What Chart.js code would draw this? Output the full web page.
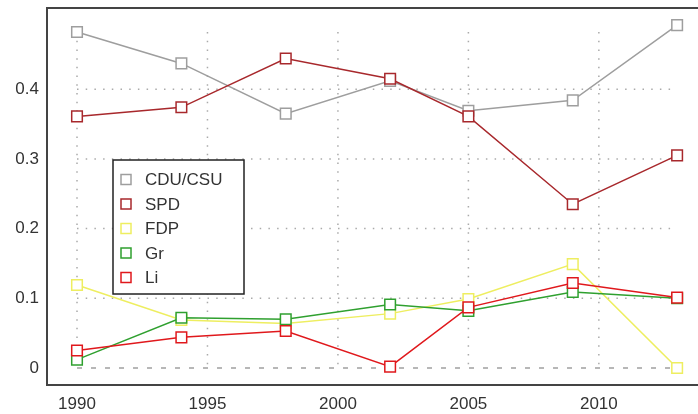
<!DOCTYPE html>
<html>
<head>
<meta charset="utf-8">
<script src="https://cdn.jsdelivr.net/npm/chart.js@4/dist/chart.umd.min.js"></script>
<style>
  html, body { margin: 0; padding: 0; background: #fff; }
  #chart { display: block; }
</style>
</head>
<body>
<canvas id="chart" width="698" height="414"></canvas>
<script>
const years = [1990, 1994, 1998, 2002, 2005, 2009, 2013]
const cduCsu = [0.482, 0.437, 0.365, 0.412, 0.369, 0.384, 0.492]
const spd = [0.361, 0.374, 0.444, 0.415, 0.361, 0.235, 0.305]
const fdp = [0.119, 0.069, 0.064, 0.078, 0.099, 0.149, 0.0]
const gr = [0.012, 0.072, 0.070, 0.091, 0.082, 0.109, 0.100]
const li = [0.025, 0.044, 0.053, 0.002, 0.087, 0.122, 0.101]
const xTicks = [1990, 1995, 2000, 2005, 2010]
const yTicks = [0, 0.1, 0.2, 0.3, 0.4]

const parties = [
    { label: 'CDU/CSU', data: cduCsu, color: '#9e9e9e' },
    { label: 'SPD', data: spd, color: '#a8282c' },
    { label: 'FDP', data: fdp, color: '#eeee60' },
    { label: 'Gr', data: gr, color: '#2fa02f' },
    { label: 'Li', data: li, color: '#e0181c' }
]

const fontFamily = '"Liberation Sans", Arial, sans-serif'

// the scales should not push the plot area around
const noPadding = s => {
    s.paddingTop = 0
    s.paddingBottom = 0
    s.paddingLeft = 0
    s.paddingRight = 0
}

// dotted grid over the data range only, dashed line at zero
const gridPlugin = {
    id: 'gridLines',
    beforeDatasetsDraw(chart) {
        const { ctx, scales: { x, y } } = chart
        ctx.save()
        ctx.strokeStyle = '#aaaaaa'
        ctx.lineWidth = 1.5
        ctx.setLineDash([1.5, 7.2])
        xTicks.forEach(v => {
            const px = x.getPixelForValue(v)
            ctx.beginPath()
            ctx.moveTo(px, y.getPixelForValue(0.482))
            ctx.lineTo(px, y.getPixelForValue(0))
            ctx.stroke()
        })
        yTicks.slice(1).forEach(v => {
            const py = y.getPixelForValue(v)
            ctx.beginPath()
            ctx.moveTo(x.getPixelForValue(1990), py)
            ctx.lineTo(x.getPixelForValue(2013), py)
            ctx.stroke()
        })
        ctx.strokeStyle = '#a0a0a0'
        ctx.setLineDash([5, 9])
        const py0 = y.getPixelForValue(0)
        ctx.beginPath()
        ctx.moveTo(x.getPixelForValue(1990), py0)
        ctx.lineTo(x.getPixelForValue(2013), py0)
        ctx.stroke()
        ctx.restore()
    },
    afterDraw(chart) {
        const { ctx, chartArea: a } = chart
        ctx.save()
        ctx.strokeStyle = '#444'
        ctx.lineWidth = 2
        ctx.beginPath()
        ctx.moveTo(a.right + 2, a.top)
        ctx.lineTo(a.left, a.top)
        ctx.lineTo(a.left, a.bottom)
        ctx.lineTo(a.right + 2, a.bottom)
        ctx.stroke()

        // legend box
        const bx = 113, by = 160, bw = 131, bh = 134
        ctx.fillStyle = '#fff'
        ctx.fillRect(bx, by, bw, bh)
        ctx.strokeStyle = '#222'
        ctx.lineWidth = 1.5
        ctx.strokeRect(bx, by, bw, bh)
        ctx.font = '17px ' + fontFamily
        ctx.textBaseline = 'middle'
        parties.forEach((p, i) => {
            const cy = by + 19.5 + i * 24.5
            ctx.strokeStyle = p.color
            ctx.lineWidth = 1.5
            ctx.strokeRect(121, cy - 5, 10, 10)
            ctx.fillStyle = '#333'
            ctx.fillText(p.label, 145, cy + 1)
        })
        ctx.restore()
    }
}

const ctx = document.getElementById('chart')
const chart = new Chart(ctx, {
    type: 'line',
    data: {
        datasets: parties.map((p, i) => ({
            label: p.label,
            data: years.map((yr, j) => ({ x: yr, y: p.data[j] })),
            borderColor: p.color,
            backgroundColor: '#fff',
            borderWidth: 1.5,
            pointStyle: 'rect',
            pointRadius: 7.5,
            pointBorderWidth: 1.5,
            pointBackgroundColor: '#fff',
            pointBorderColor: p.color,
            tension: 0,
            clip: false,
            order: parties.length - i
        }))
    },
    options: {
        responsive: false,
        devicePixelRatio: 1,
        animation: false,
        events: [],
        layout: { autoPadding: false, padding: { top: 8, right: 0, left: 0, bottom: 0 } },
        plugins: {
            legend: { display: false },
            tooltip: { enabled: false }
        },
        scales: {
            x: {
                type: 'linear',
                min: 1988.85,
                max: 2013.8,
                grid: { display: false, drawTicks: false },
                border: { display: false },
                afterBuildTicks: s => { s.ticks = xTicks.map(v => ({ value: v })) },
                afterFit: s => { s.height = 29; noPadding(s) },
                ticks: {
                    padding: 9,
                    color: '#333',
                    font: { family: fontFamily, size: 17 },
                    callback: v => String(v),
                    maxRotation: 0,
                    autoSkip: false
                }
            },
            y: {
                type: 'linear',
                min: -0.0244,
                max: 0.5165,
                grid: { display: false, drawTicks: false },
                border: { display: false },
                afterBuildTicks: s => { s.ticks = yTicks.map(v => ({ value: v })) },
                afterFit: s => { s.width = 47; noPadding(s) },
                ticks: {
                    padding: 8,
                    color: '#333',
                    font: { family: fontFamily, size: 17 },
                    callback: v => String(v)
                }
            }
        }
    },
    plugins: [gridPlugin]
})
</script>
</body>
</html>
